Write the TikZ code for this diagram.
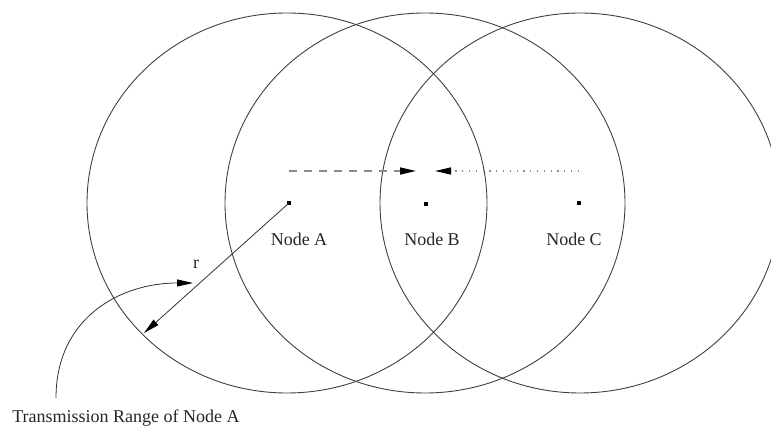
\documentclass[tikz,border=0pt]{standalone}
\usepackage{fontspec}
\setmainfont{Liberation Serif}
\usetikzlibrary{arrows.meta}
\begin{document}
\begin{tikzpicture}[x=1pt,y=-1pt,
  rangecirc/.style={draw=black!75,line width=0.9pt},
  dotnode/.style={fill=black,inner sep=0pt,minimum size=3.2pt,rectangle},
  lbl/.style={font=\fontsize{18}{21}\selectfont,text=black!85,inner sep=0pt},
  tiparrow/.style={-{Triangle[length=16pt,width=7pt,color=black]}},
  conn/.style={draw=black!80,line width=0.8pt}]
\useasboundingbox (0,0) rectangle (771,427);
\begin{scope}
\clip (0,0) rectangle (771,427);
\draw[rangecirc] (287,203) ellipse [x radius=200, y radius=190];
\draw[rangecirc] (425,203) ellipse [x radius=200, y radius=190];
\draw[rangecirc] (580,203) ellipse [x radius=200, y radius=190];
\end{scope}
\node[dotnode] (A) at (289,203) {};
\node[dotnode] (B) at (426,204) {};
\node[dotnode] (C) at (579,203) {};
\node[lbl] (LA) at (299,239) {Node A};
\node[lbl] (LB) at (432,239) {Node B};
\node[lbl] (LC) at (574,239) {Node C};
\coordinate (s1) at (289,171);
\coordinate (e1) at (416,171);
\coordinate (s2) at (579,171);
\coordinate (e2) at (435,171);
\draw[tiparrow,draw=black!45,line width=1.4pt,dash pattern=on 8pt off 7pt] (s1) -- (e1);
\draw[tiparrow,draw=black!45,line width=1.2pt,dash pattern=on 1.3pt off 5.5pt] (s2) -- (e2);
\coordinate (rim) at (144,333);
\draw[conn,tiparrow] (A.center) -- (rim);
\node[lbl] (r) at (196,264) {r};
\coordinate (cs) at (56,398);
\coordinate (ce) at (193,283);
\draw[conn,tiparrow] (cs) .. controls (56,318) and (120,283) .. (ce);
\node[lbl] (T) at (126,418) {Transmission Range of Node A};
\end{tikzpicture}
\end{document}
